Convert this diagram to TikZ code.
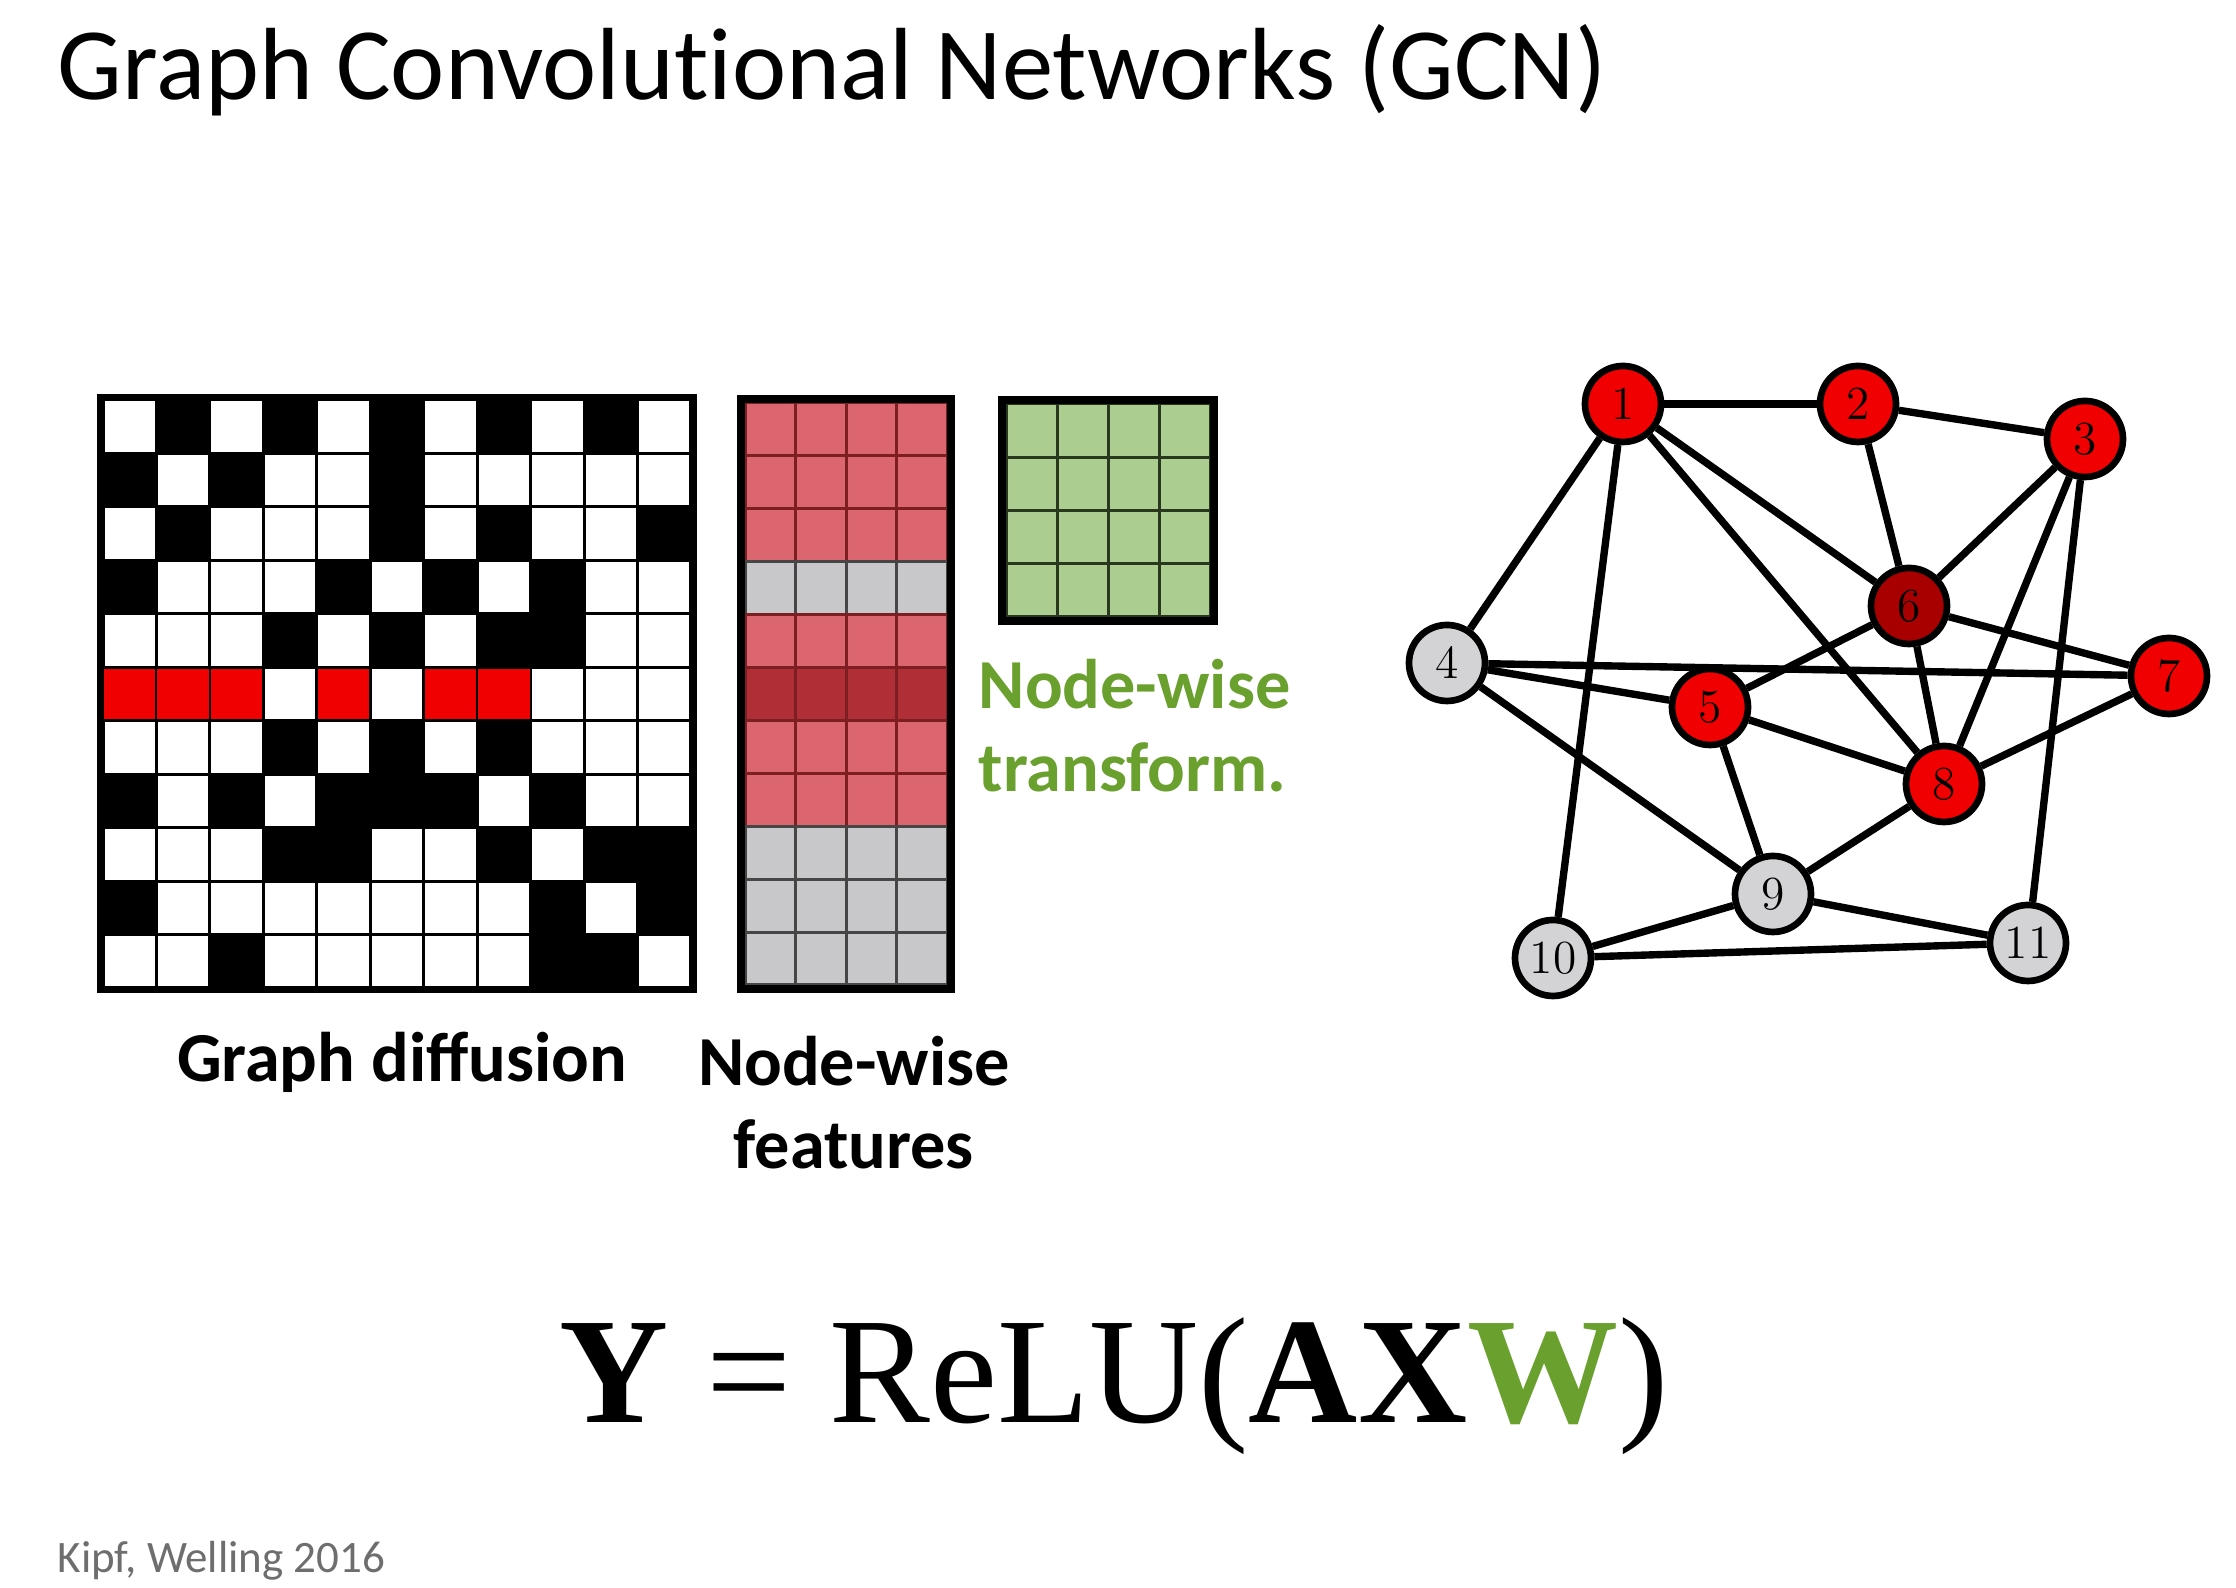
\documentclass[tikz,border=0pt]{standalone}
\usepackage{fontspec}
\setsansfont{Carlito}
\newfontfamily\titlefont{Carlito}[Ligatures=NoCommon]
\newfontfamily\eqfont{Liberation Serif}
\definecolor{adjred}{RGB}{240,0,0}
\definecolor{featred}{RGB}{219,102,112}
\definecolor{featdark}{RGB}{176,46,54}
\definecolor{featgray}{RGB}{200,200,202}
\definecolor{featredline}{RGB}{125,30,35}
\definecolor{featgrayline}{RGB}{70,70,70}
\definecolor{wfill}{RGB}{171,205,144}
\definecolor{wline}{RGB}{40,55,30}
\definecolor{wgreen}{RGB}{106,160,46}
\definecolor{nodered}{RGB}{240,0,0}
\definecolor{nodedark}{RGB}{168,0,0}
\definecolor{nodegray}{RGB}{211,211,213}
\definecolor{footgray}{RGB}{110,110,110}
\begin{document}
\begin{tikzpicture}
	\tikzstyle{every node} = [inner sep=0pt]
	\tikzstyle{vertex} = [circle, draw=black, line width=1.9pt, minimum size=0.76cm, font=\fontsize{13.5}{13.5}\selectfont]
	\tikzstyle{vred} = [vertex, fill=nodered]
	\tikzstyle{vdark} = [vertex, fill=nodedark]
	\tikzstyle{vgray} = [vertex, fill=nodegray]
	\tikzstyle{edge} = [line width=2.1pt]
	\tikzstyle{caption} = [font=\sffamily\bfseries\fontsize{20}{23.6}\selectfont, align=center]
	\useasboundingbox (0,0) rectangle (22.36,15.88);
	\fill[white] (0,0) rectangle (22.36,15.88);
	\node[anchor=base west, font=\titlefont\fontsize{29.2}{36}\selectfont] (title) at (0.57,14.88) {Graph Convolutional Networks (GCN)};
	% adjacency matrix
	\fill[black] (0.97,5.95) rectangle (6.97,11.94);
	\foreach \row [count=\i] in {{0,1,0,1,0,1,0,1,0,1,0},{1,0,1,0,0,1,0,0,0,0,0},{0,1,0,0,0,1,0,1,0,0,1},{1,0,0,0,1,0,1,0,1,0,0},{0,0,0,1,0,1,0,1,1,0,0},{2,2,2,0,2,0,2,2,0,0,0},{0,0,0,1,0,1,0,1,0,0,0},{1,0,1,0,1,1,1,0,1,0,0},{0,0,0,1,1,0,0,1,0,1,1},{1,0,0,0,0,0,0,0,1,0,1},{0,0,1,0,0,0,0,0,1,1,0}} {
		\foreach \v [count=\j] in \row {
			\ifnum\v=0 \fill[white] ({1.03+(\j-1)*0.5345+0.015},{11.88-\i*0.5345+0.015}) rectangle +(0.5045,0.5045); \fi
			\ifnum\v=2 \fill[adjred] ({1.03+(\j-1)*0.5345+0.01},{11.88-\i*0.5345+0.015}) rectangle +(0.5145,0.5045); \fi
		}
	}
	% node-wise features
	\foreach \c/\l [count=\i] in {featred/featredline,featred/featredline,featred/featredline,featgray/featgrayline,featred/featredline,featdark/featredline,featred/featredline,featred/featredline,featgray/featgrayline,featgray/featgrayline,featgray/featgrayline} {
		\foreach \j in {1,...,4} {
			\filldraw[fill=\c, draw=\l, line width=0.03cm] ({7.45+(\j-1)*0.505},{11.85-\i*0.5291}) rectangle +(0.505,0.5291);
		}
	}
	\draw[line width=0.08cm] (7.41,5.99) rectangle (9.51,11.89);
	% weights
	\foreach \i in {1,...,4} {
		\foreach \j in {1,...,4} {
			\filldraw[fill=wfill, draw=wline, line width=0.03cm] ({10.06+(\j-1)*0.51},{11.84-\i*0.5325}) rectangle +(0.51,0.5325);
		}
	}
	\draw[line width=0.08cm] (10.02,9.67) rectangle (12.14,11.88);
	\node[caption, text=wgreen, align=left, anchor=west] (transform) at (9.78,8.62) {Node-wise\\transform.};
	\node[caption] (diffusion) at (4.02,5.26) {Graph diffusion};
	\node[caption] (features) at (8.54,4.85) {Node-wise\\features};
	% graph
	\node[vred] (v1) at (16.23,11.84) {1};
	\node[vred] (v2) at (18.58,11.84) {2};
	\node[vred] (v3) at (20.85,11.49) {3};
	\node[vgray] (v4) at (14.47,9.25) {4};
	\node[vred] (v5) at (17.10,8.81) {5};
	\node[vdark] (v6) at (19.09,9.82) {6};
	\node[vred] (v7) at (21.69,9.12) {7};
	\node[vred] (v8) at (19.44,8.04) {8};
	\node[vgray] (v9) at (17.73,6.94) {9};
	\node[vgray] (v10) at (15.53,6.30) {10};
	\node[vgray] (v11) at (20.28,6.45) {11};
	\draw [edge] (v1)--(v2);
	\draw [edge] (v2)--(v3);
	\draw [edge] (v1)--(v4);
	\draw [edge] (v1)--(v10);
	\draw [edge] (v1)--(v8);
	\draw [edge] (v1)--(v6);
	\draw [edge] (v2)--(v6);
	\draw [edge] (v3)--(v6);
	\draw [edge] (v3)--(v8);
	\draw [edge] (v3)--(v11);
	\draw [edge] (v6)--(v5);
	\draw [edge] (v6)--(v7);
	\draw [edge] (v6)--(v8);
	\draw [edge] (v4)--(v7);
	\draw [edge] (v4)--(v5);
	\draw [edge] (v4)--(v9);
	\draw [edge] (v5)--(v8);
	\draw [edge] (v5)--(v9);
	\draw [edge] (v7)--(v8);
	\draw [edge] (v8)--(v9);
	\draw [edge] (v9)--(v10);
	\draw [edge] (v9)--(v11);
	\draw [edge] (v10)--(v11);
	% formula
	\node[anchor=base, font=\eqfont\fontsize{43}{50}\selectfont] (formula) at (11.14,1.65) {\textbf{Y} = ReLU(\textbf{AX\textcolor{wgreen}{W}})};
	\node[anchor=base west, text=footgray, font=\sffamily\fontsize{12.8}{15}\selectfont] (cite) at (0.57,0.15) {Kipf, Welling 2016};
\end{tikzpicture}
\end{document}
